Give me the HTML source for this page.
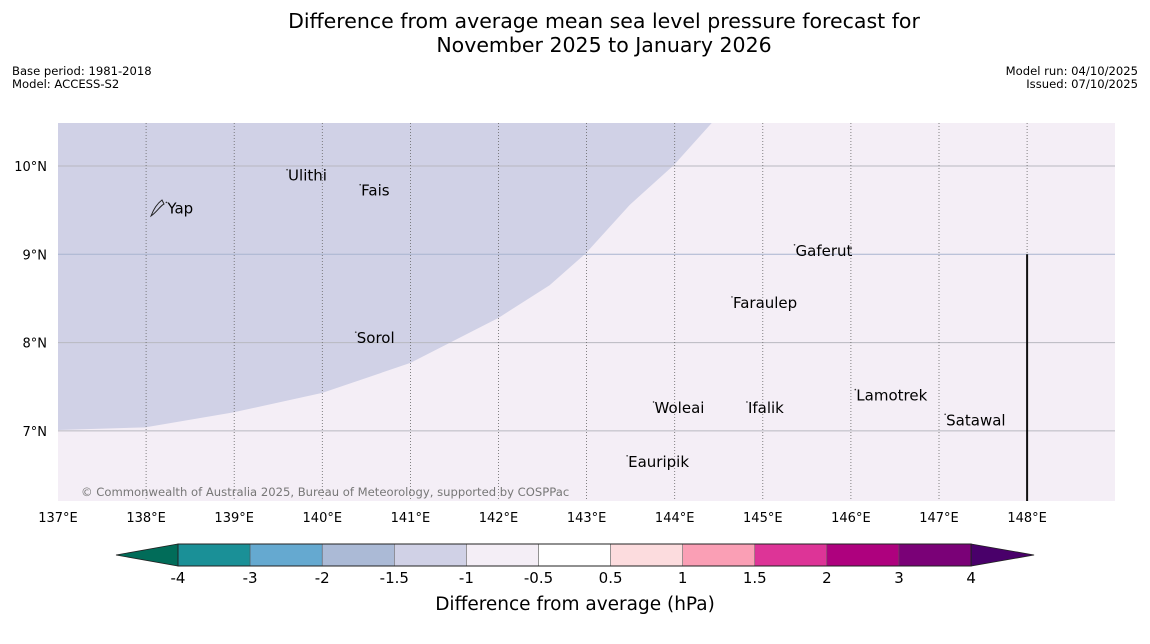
<!DOCTYPE html>
<html><head><meta charset="utf-8"><style>
body{margin:0;background:#fff;width:1150px;height:644px;overflow:hidden}
svg{display:block;font-family:"DejaVu Sans","Liberation Sans",sans-serif}
</style></head><body>
<svg id="c" width="1150" height="644" viewBox="0 0 1150 644" xmlns="http://www.w3.org/2000/svg">
<text x="604" y="28" font-size="20.5" text-anchor="middle">Difference from average mean sea level pressure forecast for</text>
<text x="604" y="52" font-size="20.5" text-anchor="middle">November 2025 to January 2026</text>
<text x="12" y="75" font-size="11.6">Base period: 1981-2018</text>
<text x="12" y="88" font-size="11.6">Model: ACCESS-S2</text>
<text x="1138" y="75" font-size="11.6" text-anchor="end">Model run: 04/10/2025</text>
<text x="1138" y="88" font-size="11.6" text-anchor="end">Issued: 07/10/2025</text>
<g id="map"></g>
<g id="cbar"></g>
<text x="575" y="610" font-size="18.5" text-anchor="middle">Difference from average (hPa)</text>
</svg>
<script>
const lonTicks=[137,138,139,140,141,142,143,144,145,146,147,148];
const latTicks=[7,8,9,10];
const boundaryLon=[137,137.99,138.99,140.0,141.0,142.0,142.58,142.99,143.49,143.99,144.42];
const boundaryLat=[7.01,7.04,7.21,7.43,7.77,8.28,8.65,9.01,9.56,10.01,10.49];
const places=["Yap","Ulithi","Fais","Sorol","Gaferut","Faraulep","Woleai","Ifalik","Lamotrek","Satawal","Eauripik"];
const placeLon=[138.23,139.60,140.43,140.38,145.36,144.65,143.76,144.82,146.05,147.07,143.46];
const placeLat=[9.52,9.89,9.72,8.05,9.04,8.45,7.26,7.26,7.40,7.12,6.65];
const cbLevels=["-4","-3","-2","-1.5","-1","-0.5","0.5","1","1.5","2","3","4"];
const cbColors=["#1a9097","#65a9d0","#abbad6","#d0d1e6","#f4eef6","#ffffff","#fcdcde","#fa9fb5","#dd3497","#ae017e","#7a0177"];
const cbLow="#016c59", cbHigh="#49006a";

const NS="http://www.w3.org/2000/svg";
const X0=58,X1=1115,Y0=123,Y1=501;
const xs=lon=>58+(lon-137)*88.1;
const ys=lat=>166-(lat-10)*88.3;
function mk(tag,attrs,parent){const e=document.createElementNS(NS,tag);for(const k in attrs)e.setAttribute(k,attrs[k]);parent.appendChild(e);return e;}
const map=document.getElementById('map');
const bg=mk('rect',{x:X0,y:Y0,width:X1-X0,height:Y1-Y0,fill:'#f4eef6'},map);


let d='M'+X0+','+Y0;
for(let i=0;i<boundaryLon.length;i++){d+=' L'+xs(boundaryLon[i])+','+Math.max(Math.min(ys(boundaryLat[i]),Y1),Y0);}
d+=' L'+xs(boundaryLon[boundaryLon.length-1])+','+Y0+' Z';
const reg=mk('path',{d:d,fill:'#d0d1e6'},map);


latTicks.forEach(l=>{
  const ln=mk('line',{x1:X0,x2:X1,y1:ys(l),y2:ys(l),stroke:l==9?'#a8b4cf':'#b8b8c0','stroke-width':1},map);
  
  
  const t=mk('text',{x:47,y:ys(l)+5,'font-size':13,'text-anchor':'end'},map);t.textContent=l+'°N';
  
  
});
lonTicks.forEach(l=>{
  if(l>137){const ln=mk('line',{x1:xs(l),x2:xs(l),y1:Y0,y2:Y1,stroke:'#666','stroke-width':0.8,'stroke-dasharray':'1,2'},map);
  
  }
  const t=mk('text',{x:xs(l),y:522,'font-size':13,'text-anchor':'middle'},map);t.textContent=l+'°E';
  
  
});
const bl=mk('line',{x1:xs(148),x2:xs(148),y1:ys(9),y2:Y1,stroke:'#111','stroke-width':2},map);


places.forEach((p,i)=>{
  const x=xs(placeLon[i]),y=ys(placeLat[i]);
  const dot=mk('circle',{cx:x,cy:y-6,r:0.8,fill:'#333'},map);
  
  
  const t=mk('text',{x:x+1,y:y+5,'font-size':15},map);t.textContent=p;
  
  
});
const yap=mk('path',{d:'M151,216 C154,208 158,203 162,200 L164,204 C160,206 157,212 151,216 Z',fill:'none',stroke:'#222','stroke-width':1},map);


const cr=mk('text',{x:81,y:496,'font-size':11.6,fill:'#777'},map);cr.textContent='© Commonwealth of Australia 2025, Bureau of Meteorology, supported by COSPPac';



const cb=document.getElementById('cbar');
const CX0=178,CW=72.1,CY=544,CH=22;
const lt=mk('polygon',{points:`116,${CY+CH/2} ${CX0},${CY} ${CX0},${CY+CH}`,fill:cbLow,stroke:'#222','stroke-width':0.8},cb);


cbColors.forEach((c,i)=>{
  const r=mk('rect',{x:CX0+i*CW,y:CY,width:CW,height:CH,fill:c,stroke:'#555','stroke-width':0.5},cb);
  
  
});
const xe=CX0+cbColors.length*CW;
const rt=mk('polygon',{points:`${xe},${CY} ${xe+63},${CY+CH/2} ${xe},${CY+CH}`,fill:cbHigh,stroke:'#222','stroke-width':0.8},cb);


const fr=mk('rect',{x:CX0,y:CY,width:xe-CX0,height:CH,fill:'none',stroke:'#222','stroke-width':1},cb);


cbLevels.forEach((l,i)=>{
  const t=mk('text',{x:CX0+i*CW,y:583,'font-size':15,'text-anchor':'middle'},cb);t.textContent=l;
  
  
});
</script>
</body></html>
